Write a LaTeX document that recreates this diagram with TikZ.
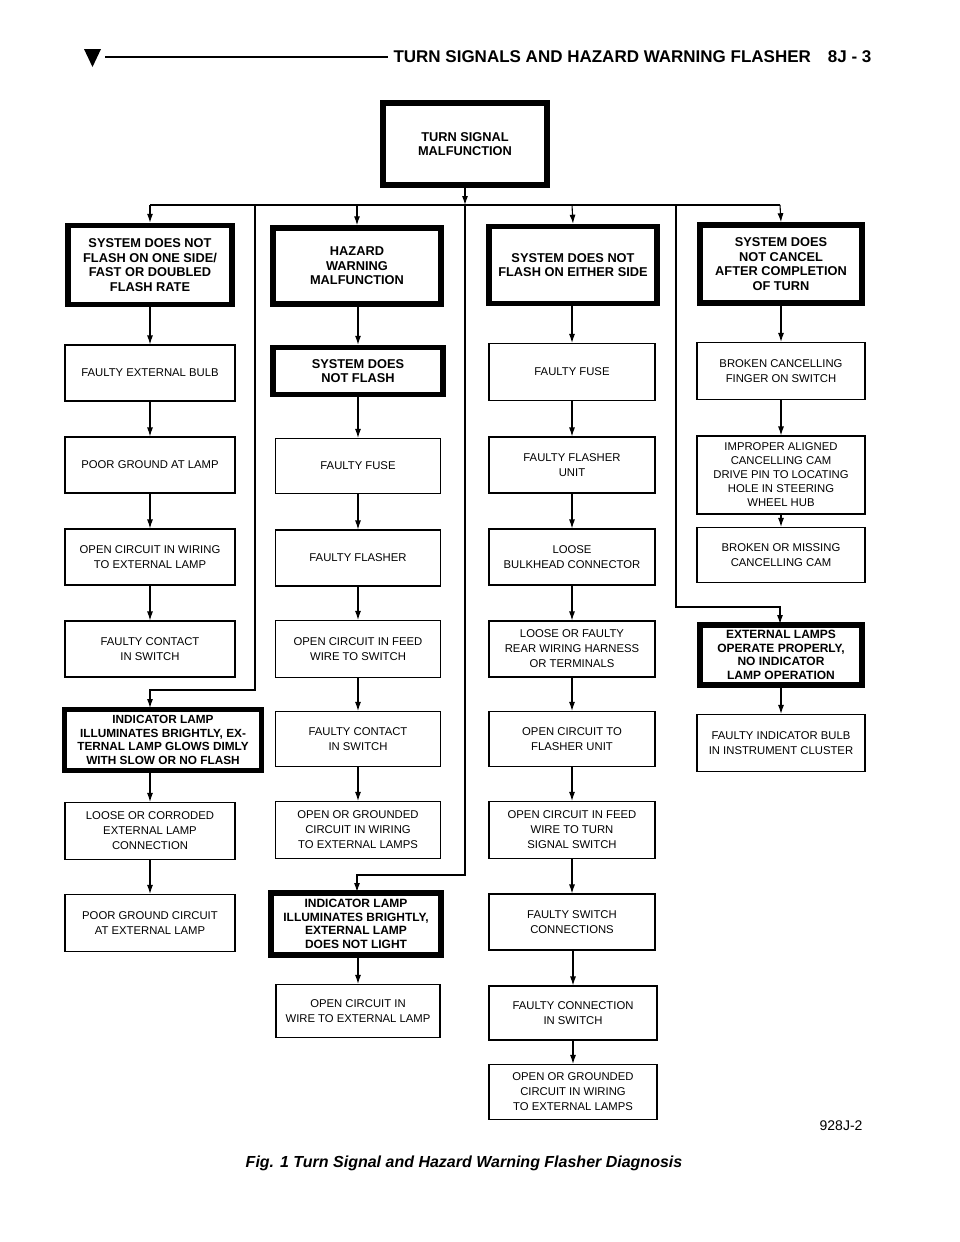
\documentclass[tikz,border=0pt]{standalone}
\usepackage{fontspec}
\setmainfont{Liberation Sans}
\usetikzlibrary{positioning, arrows.meta}

\tikzset{
  box/.style={draw, line width=1.1pt, align=center, font=\fontsize{11.3}{15}\selectfont, inner sep=1pt},
  headbox/.style={draw, line width=5.5pt, align=center, font=\bfseries\fontsize{12.8}{14.6}\selectfont, inner sep=0pt},
  arr/.style={line width=1.1pt, -{Latex[length=9pt, width=6pt]}},
  bus/.style={line width=1.1pt}
}

\begin{document}
\begin{tikzpicture}[x=1pt, y=-1pt]
	\useasboundingbox (0,0) rectangle (960,1242);

	% page header
	\fill (84,49) -- (101,49) -- (92.5,67) -- cycle;
	\draw [line width=2pt] (105,57) -- (388,57);
	\node [anchor=west, font=\bfseries\fontsize{17}{19}\selectfont] (title) at (390,57) {TURN SIGNALS AND HAZARD WARNING FLASHER\quad 8J - 3};

	% top
	\node [headbox, minimum width=164, minimum height=82] (top) at (465,144) {TURN SIGNAL\\MALFUNCTION};

	% column 1
	\node [headbox, minimum width=164, minimum height=79] (c1h) at (150,265) {SYSTEM DOES NOT\\FLASH ON ONE SIDE/\\FAST OR DOUBLED\\FLASH RATE};
	\node [box, minimum width=170, minimum height=56] (c1a) at (150,373) {FAULTY EXTERNAL BULB};
	\node [box, minimum width=170, minimum height=56] (c1b) at (150,465) {POOR GROUND AT LAMP};
	\node [box, minimum width=170, minimum height=56] (c1c) at (150,557) {OPEN CIRCUIT IN WIRING\\TO EXTERNAL LAMP};
	\node [box, minimum width=170, minimum height=56] (c1d) at (150,649) {FAULTY CONTACT\\IN SWITCH};
	\node [headbox, minimum width=197, minimum height=61, font=\bfseries\fontsize{11.8}{13.5}\selectfont] (c1i) at (163,740) {INDICATOR LAMP\\ILLUMINATES BRIGHTLY, EX-\\TERNAL LAMP GLOWS DIMLY\\WITH SLOW OR NO FLASH};
	\node [box, minimum width=170, minimum height=57] (c1e) at (150,831) {LOOSE OR CORRODED\\EXTERNAL LAMP\\CONNECTION};
	\node [box, minimum width=170, minimum height=57] (c1f) at (150,923) {POOR GROUND CIRCUIT\\AT EXTERNAL LAMP};

	% column 2
	\node [headbox, minimum width=168, minimum height=76] (c2h) at (357,266) {HAZARD\\WARNING\\MALFUNCTION};
	\node [headbox, minimum width=170, minimum height=47] (c2i) at (358,371) {SYSTEM DOES\\NOT FLASH};
	\node [box, minimum width=165, minimum height=55] (c2a) at (358,466) {FAULTY FUSE};
	\node [box, minimum width=165, minimum height=56] (c2b) at (358,558) {FAULTY FLASHER};
	\node [box, minimum width=165, minimum height=57] (c2c) at (358,649) {OPEN CIRCUIT IN FEED\\WIRE TO SWITCH};
	\node [box, minimum width=165, minimum height=55] (c2d) at (358,739) {FAULTY CONTACT\\IN SWITCH};
	\node [box, minimum width=165, minimum height=57] (c2e) at (358,830) {OPEN OR GROUNDED\\CIRCUIT IN WIRING\\TO EXTERNAL LAMPS};
	\node [headbox, minimum width=170, minimum height=62, font=\bfseries\fontsize{12}{13.5}\selectfont] (c2j) at (356,924) {INDICATOR LAMP\\ILLUMINATES BRIGHTLY,\\EXTERNAL LAMP\\DOES NOT LIGHT};
	\node [box, minimum width=164, minimum height=53] (c2f) at (358,1011) {OPEN CIRCUIT IN\\WIRE TO EXTERNAL LAMP};

	% column 3
	\node [headbox, minimum width=168, minimum height=77] (c3h) at (573,265) {SYSTEM DOES NOT\\FLASH ON EITHER SIDE};
	\node [box, minimum width=166, minimum height=57] (c3a) at (572,372) {FAULTY FUSE};
	\node [box, minimum width=166, minimum height=56] (c3b) at (572,465) {FAULTY FLASHER\\UNIT};
	\node [box, minimum width=166, minimum height=56] (c3c) at (572,557) {LOOSE\\BULKHEAD CONNECTOR};
	\node [box, minimum width=166, minimum height=56] (c3d) at (572,649) {LOOSE OR FAULTY\\REAR WIRING HARNESS\\OR TERMINALS};
	\node [box, minimum width=166, minimum height=55] (c3e) at (572,739) {OPEN CIRCUIT TO\\FLASHER UNIT};
	\node [box, minimum width=166, minimum height=57] (c3f) at (572,830) {OPEN CIRCUIT IN FEED\\WIRE TO TURN\\SIGNAL SWITCH};
	\node [box, minimum width=166, minimum height=56] (c3g) at (572,922) {FAULTY SWITCH\\CONNECTIONS};
	\node [box, minimum width=168, minimum height=54] (c3i) at (573,1013) {FAULTY CONNECTION\\IN SWITCH};
	\node [box, minimum width=168, minimum height=55] (c3j) at (573,1092) {OPEN OR GROUNDED\\CIRCUIT IN WIRING\\TO EXTERNAL LAMPS};

	% column 4
	\node [headbox, minimum width=162, minimum height=78] (c4h) at (781,264) {SYSTEM DOES\\NOT CANCEL\\AFTER COMPLETION\\OF TURN};
	\node [box, minimum width=168, minimum height=57] (c4a) at (781,371) {BROKEN CANCELLING\\FINGER ON SWITCH};
	\node [box, minimum width=168, minimum height=78, font=\fontsize{11.3}{14}\selectfont] (c4b) at (781,475) {IMPROPER ALIGNED\\CANCELLING CAM\\DRIVE PIN TO LOCATING\\HOLE IN STEERING\\WHEEL HUB};
	\node [box, minimum width=168, minimum height=55] (c4c) at (781,555) {BROKEN OR MISSING\\CANCELLING CAM};
	\node [headbox, minimum width=162, minimum height=60, font=\bfseries\fontsize{12}{13.5}\selectfont] (c4i) at (781,655) {EXTERNAL LAMPS\\OPERATE PROPERLY,\\NO INDICATOR\\LAMP OPERATION};
	\node [box, minimum width=168, minimum height=57] (c4d) at (781,743) {FAULTY INDICATOR BULB\\IN INSTRUMENT CLUSTER};

	% bus and feeders
	\coordinate (busl) at (150,205);
	\coordinate (busr) at (780,205);
	\draw [arr] (top) -- (top |- busl);
	\draw [bus] (busl) -- (busr);
	\draw [arr] (busl) -- (c1h.north);
	\draw [arr] (357,205) -- (c2h.north);
	\draw [arr] (572,205) -- (c3h.north);
	\draw [arr] (busr) -- (c4h.north);
	\draw [arr] (255,205) -- (255,690) -- (150,690) -- (150,708);
	\draw [arr] (465,205) -- (465,875) -- (357,875) -- (357,892);
	\draw [arr] (676,205) -- (676,607) -- (780,607) -- (780,624);

	% chains
	\foreach \a/\b in {c1h/c1a, c1a/c1b, c1b/c1c, c1c/c1d, c1e/c1f,
		c2h/c2i, c2i/c2a, c2a/c2b, c2b/c2c, c2c/c2d, c2d/c2e, c2j/c2f,
		c3h/c3a, c3a/c3b, c3b/c3c, c3c/c3d, c3d/c3e, c3e/c3f, c3f/c3g, c3g/c3i, c3i/c3j,
		c4h/c4a, c4a/c4b, c4b/c4c, c4i/c4d}
		\draw [arr] (\b.north |- \a.south) -- (\b.north);
	\draw [arr] (c1e.north |- c1i.south) -- (c1e.north);

	% labels
	\node [anchor=east, font=\fontsize{14}{16}\selectfont] (code) at (866,1126) {928J-2};
	\node [font=\bfseries\itshape\fontsize{16}{18}\selectfont] (caption) at (464,1163) {Fig. 1 Turn Signal and Hazard Warning Flasher Diagnosis};
\end{tikzpicture}
\end{document}
